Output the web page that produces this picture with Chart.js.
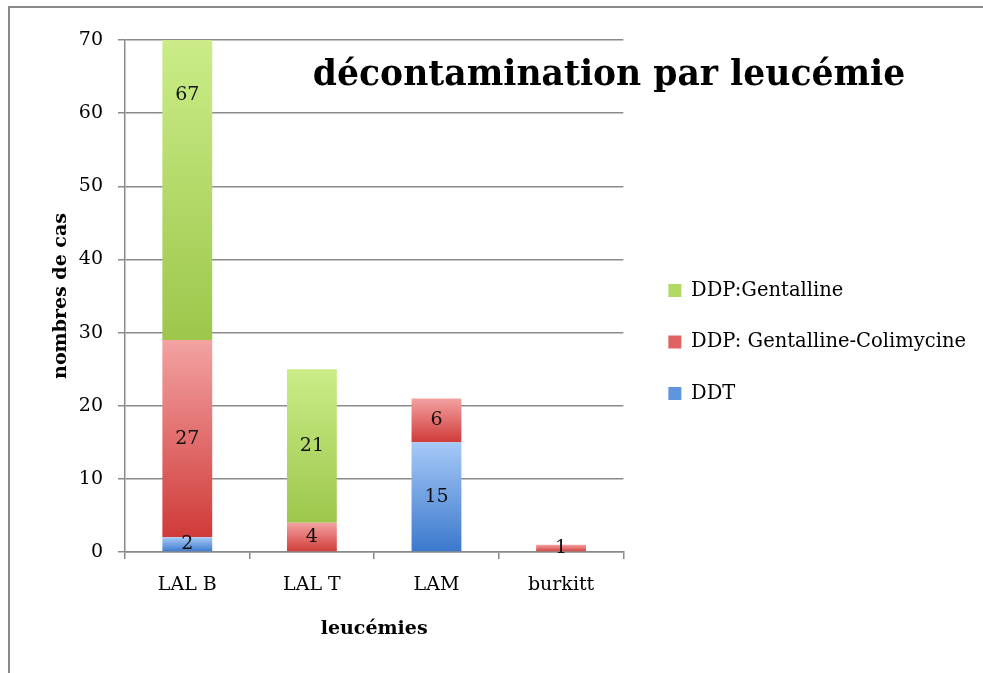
<!DOCTYPE html>
<html>
<head>
<meta charset="utf-8">
<script src="https://cdn.jsdelivr.net/npm/chart.js@4/dist/chart.umd.min.js"></script>
<style>
  body { margin: 0; background: #fff; }
  #frame {
    position: absolute; left: 8px; top: 6px; width: 1000px; height: 700px;
    border-left: 2px solid #8a8a8a; border-top: 2px solid #8a8a8a;
  }
  #wrap { position: absolute; left: 0; top: 0; width: 983px; height: 673px; }
</style>
</head>
<body>
<div id="frame"></div>
<div id="wrap"><canvas id="chart"></canvas></div>
<script>
const leukemias = ['LAL B', 'LAL T', 'LAM', 'burkitt'];
const ddt = [2, 0, 15, 0];
const gentColi = [27, 4, 6, 1];
const gentalline = [67, 21, 0, 0];
const seriesList = [ddt, gentColi, gentalline];
const yTicks = [0, 10, 20, 30, 40, 50, 60, 70];

const FONT = 'DejaVu Serif';
Chart.defaults.font.family = FONT;
Chart.defaults.color = '#000';

// legend swatch colours, one per dataset
const swatches = ['#5f95de', '#e06262', '#b2d966'];

// vertical gradient per bar segment, light on top, dark at the bottom
function segmentFill(light, dark, solid) {
  return (c) => {
    if (c.type !== 'data') return solid;
    const chart = c.chart;
    const y = chart.scales.y;
    if (!chart.chartArea || !y) return solid;
    let base = 0;
    for (let k = 0; k < c.datasetIndex; k++) base += seriesList[k][c.dataIndex];
    const top = base + seriesList[c.datasetIndex][c.dataIndex];
    const y0 = y.getPixelForValue(Math.min(top, y.max));
    const y1 = y.getPixelForValue(base);
    if (!isFinite(y0) || !isFinite(y1) || y0 === y1) return solid;
    const g = chart.ctx.createLinearGradient(0, y0, 0, y1);
    g.addColorStop(0, light);
    g.addColorStop(1, dark);
    return g;
  };
}

const barLabels = {
  id: 'barLabels',
  afterDatasetsDraw(chart) {
    const c = chart.ctx;
    c.save();
    c.font = '19px "' + FONT + '"';
    c.fillStyle = '#111';
    c.textAlign = 'center';
    c.textBaseline = 'middle';
    chart.data.datasets.forEach((ds, d) => {
      chart.getDatasetMeta(d).data.forEach((bar, i) => {
        const v = ds.data[i];
        if (!v) return;
        c.fillText(String(v), bar.x, (bar.y + bar.base) / 2);
      });
    });
    c.restore();
  }
};

const bigTitle = {
  id: 'bigTitle',
  afterDraw(chart) {
    const c = chart.ctx;
    const text = 'décontamination par leucémie';
    c.save();
    c.font = 'bold 32px "' + FONT + '"';
    const size = 32 * 592 / c.measureText(text).width;
    c.font = 'bold ' + size.toFixed(1) + 'px "' + FONT + '"';
    c.fillStyle = '#000';
    c.textAlign = 'center';
    c.textBaseline = 'middle';
    c.fillText(text, 609, 76);
    c.restore();
  }
};

const ctx = document.getElementById('chart').getContext('2d');
new Chart(ctx, {
  type: 'bar',
  data: {
    labels: leukemias,
    datasets: [
      {
        label: 'DDT',
        data: ddt,
        backgroundColor: segmentFill('#a6c9f7', '#3b78cc', swatches[0]),
      },
      {
        label: 'DDP: Gentalline-Colimycine',
        data: gentColi,
        backgroundColor: segmentFill('#f3a2a2', '#cf3b39', swatches[1]),
      },
      {
        label: 'DDP:Gentalline',
        data: gentalline,
        backgroundColor: segmentFill('#cbec88', '#9cc74b', swatches[2]),
      },
    ],
  },
  options: {
    responsive: true,
    maintainAspectRatio: false,
    animation: false,
    layout: { padding: { left: 46, top: 40, bottom: 29, right: 7 } },
    datasets: { bar: { barPercentage: 0.4, categoryPercentage: 1 } },
    plugins: {
      tooltip: { enabled: false },
      legend: {
        position: 'right',
        reverse: true,
        maxWidth: 420,
        labels: {
          boxWidth: 13,
          boxHeight: 13,
          padding: 32,
          font: { size: 19.5 },
          color: '#000',
          generateLabels: (chart) =>
            Chart.defaults.plugins.legend.labels.generateLabels(chart).map((item) => ({
              ...item,
              fillStyle: swatches[item.datasetIndex],
              strokeStyle: swatches[item.datasetIndex],
              lineWidth: 0,
            })),
        },
      },
    },
    scales: {
      x: {
        stacked: true,
        grid: { display: true, drawOnChartArea: false, drawTicks: true, tickLength: 7, color: '#8a8a8a', lineWidth: 1.5, offset: true },
        border: { color: '#8a8a8a', width: 1.5 },
        ticks: { font: { size: 19 }, padding: 15 },
        title: { display: true, text: 'leucémies', font: { size: 19, weight: 'bold' }, padding: 4 },
        afterFit: (s) => { s.height = 92; },
      },
      y: {
        stacked: true,
        min: 0,
        max: 70,
        afterBuildTicks: (s) => { s.ticks = yTicks.map((v) => ({ value: v })); },
        grid: { color: '#8a8a8a', lineWidth: 1.5, tickLength: 7 },
        border: { color: '#8a8a8a', width: 1.5 },
        ticks: { font: { size: 19 }, padding: 15 },
        title: { display: true, text: 'nombres de cas', font: { size: 19, weight: 'bold' }, padding: 4 },
        afterFit: (s) => { s.width = 79; },
      },
      y2: {
        position: 'right',
        display: true,
        grid: { display: false },
        border: { display: false },
        ticks: { display: false },
        afterFit: (s) => { s.width = 13; },
      },
    },
  },
  plugins: [barLabels, bigTitle],
});
</script>
</body>
</html>
